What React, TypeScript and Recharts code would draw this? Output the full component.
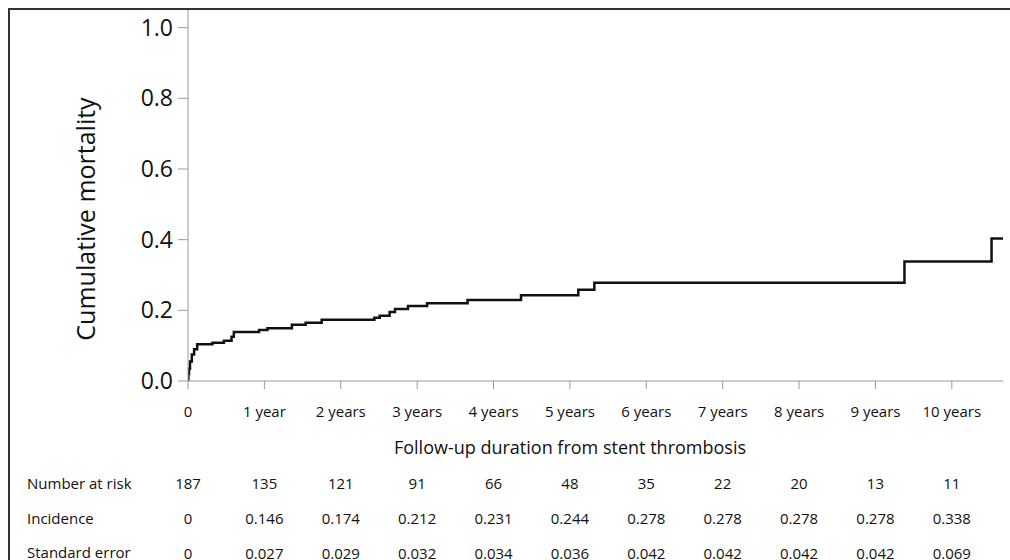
import React from "react";
import { LineChart, Line, XAxis, YAxis } from "recharts";

const times = [0, 0.005, 0.013, 0.026, 0.05, 0.08, 0.12, 0.32, 0.47, 0.57, 0.6, 0.93, 1.04, 1.36, 1.54, 1.75, 2.44, 2.51, 2.64, 2.71, 2.88, 3.13, 3.66, 4.36, 5.11, 5.32, 9.38, 10.52, 10.67];
const mortality = [0, 0.02, 0.035, 0.055, 0.075, 0.09, 0.104, 0.108, 0.114, 0.125, 0.139, 0.144, 0.149, 0.159, 0.165, 0.173, 0.179, 0.185, 0.195, 0.204, 0.212, 0.22, 0.229, 0.243, 0.258, 0.278, 0.338, 0.403, 0.403];

const yearTicks = [0, 1, 2, 3, 4, 5, 6, 7, 8, 9, 10];
const yearLabels = ["0", "1 year", "2 years", "3 years", "4 years", "5 years", "6 years", "7 years", "8 years", "9 years", "10 years"];
const yTicks = [0, 0.2, 0.4, 0.6, 0.8, 1.0];

const numberAtRisk = ["187", "135", "121", "91", "66", "48", "35", "22", "20", "13", "11"];
const incidence = ["0", "0.146", "0.174", "0.212", "0.231", "0.244", "0.278", "0.278", "0.278", "0.278", "0.338"];
const standardError = ["0", "0.027", "0.029", "0.032", "0.034", "0.036", "0.042", "0.042", "0.042", "0.042", "0.069"];
const rowLabels = ["Number at risk", "Incidence", "Standard error"];

const xTitle = "Follow-up duration from stent thrombosis";
const yTitle = "Cumulative mortality";

const data = times.map((t, i) => ({ t, m: mortality[i] }));

const FONT = "'Open Sans', sans-serif";
const TEXT = "#111";
const AXIS = "#9a9a9a";

const rowAxes = [
  { id: "a1", values: numberAtRisk, height: 35 },
  { id: "a2", values: incidence, height: 35 },
  { id: "a3", values: standardError, height: 19 },
];

export default function App() {
  return (
    <div style={{ position: "fixed", left: 0, top: 0, width: 1010, height: 560, background: "#fff", overflow: "hidden" }}>
      <div
        style={{
          position: "absolute",
          left: 8,
          top: 8,
          width: 1010,
          height: 560,
          boxSizing: "border-box",
          borderTop: "2px solid #333",
          borderLeft: "2px solid #333",
        }}
      />
      <div style={{ position: "absolute", left: 8, top: 8 }}>
        <LineChart width={1002} height={552} data={data} margin={{ top: 2, right: 7, bottom: 0, left: 0 }}>
          <XAxis
            xAxisId="a0"
            dataKey="t"
            type="number"
            domain={[0, 10.67]}
            allowDataOverflow
            ticks={yearTicks}
            tickFormatter={(v: number) => yearLabels[yearTicks.indexOf(v)] ?? ""}
            height={90}
            stroke={AXIS}
            tickSize={8}
            tickMargin={17}
            interval={0}
            tick={{ fill: TEXT, fontSize: 15, fontFamily: FONT }}
          />
          {rowAxes.map((r) => (
            <XAxis
              key={r.id}
              xAxisId={r.id}
              dataKey="t"
              type="number"
              domain={[0, 10.67]}
              allowDataOverflow
              ticks={yearTicks}
              tickFormatter={(v: number) => r.values[yearTicks.indexOf(v)] ?? ""}
              height={r.height}
              axisLine={false}
              tickLine={false}
              tickSize={0}
              tickMargin={7}
              interval={0}
              tick={{ fill: TEXT, fontSize: 15, fontFamily: FONT }}
            />
          ))}
          <YAxis
            type="number"
            domain={[0, 1.05]}
            allowDataOverflow
            ticks={yTicks}
            tickFormatter={(v: number) => v.toFixed(1)}
            width={180}
            stroke={AXIS}
            tickSize={10}
            tickMargin={5}
            tick={{ fill: TEXT, fontSize: 23, fontFamily: FONT }}
          />
          <Line
            xAxisId="a0"
            type="stepAfter"
            dataKey="m"
            stroke="#111"
            strokeWidth={2.5}
            dot={false}
            isAnimationActive={false}
          />
        </LineChart>
      </div>
      <svg
        width={1002}
        height={552}
        style={{ position: "absolute", left: 8, top: 8, pointerEvents: "none", overflow: "visible" }}
        fontFamily={FONT}
      >
        <text
          transform="translate(87,211) rotate(-90)"
          textAnchor="middle"
          fontSize={25}
          fill={TEXT}
        >
          {yTitle}
        </text>
        <text x={562} y={446} textAnchor="middle" fontSize={18} fill={TEXT}>
          {xTitle}
        </text>
        {rowLabels.map((l, i) => (
          <text key={l} x={19} y={[480.5, 515.5, 549.5][i]} fontSize={15} fill={TEXT}>
            {l}
          </text>
        ))}
      </svg>
    </div>
  );
}
